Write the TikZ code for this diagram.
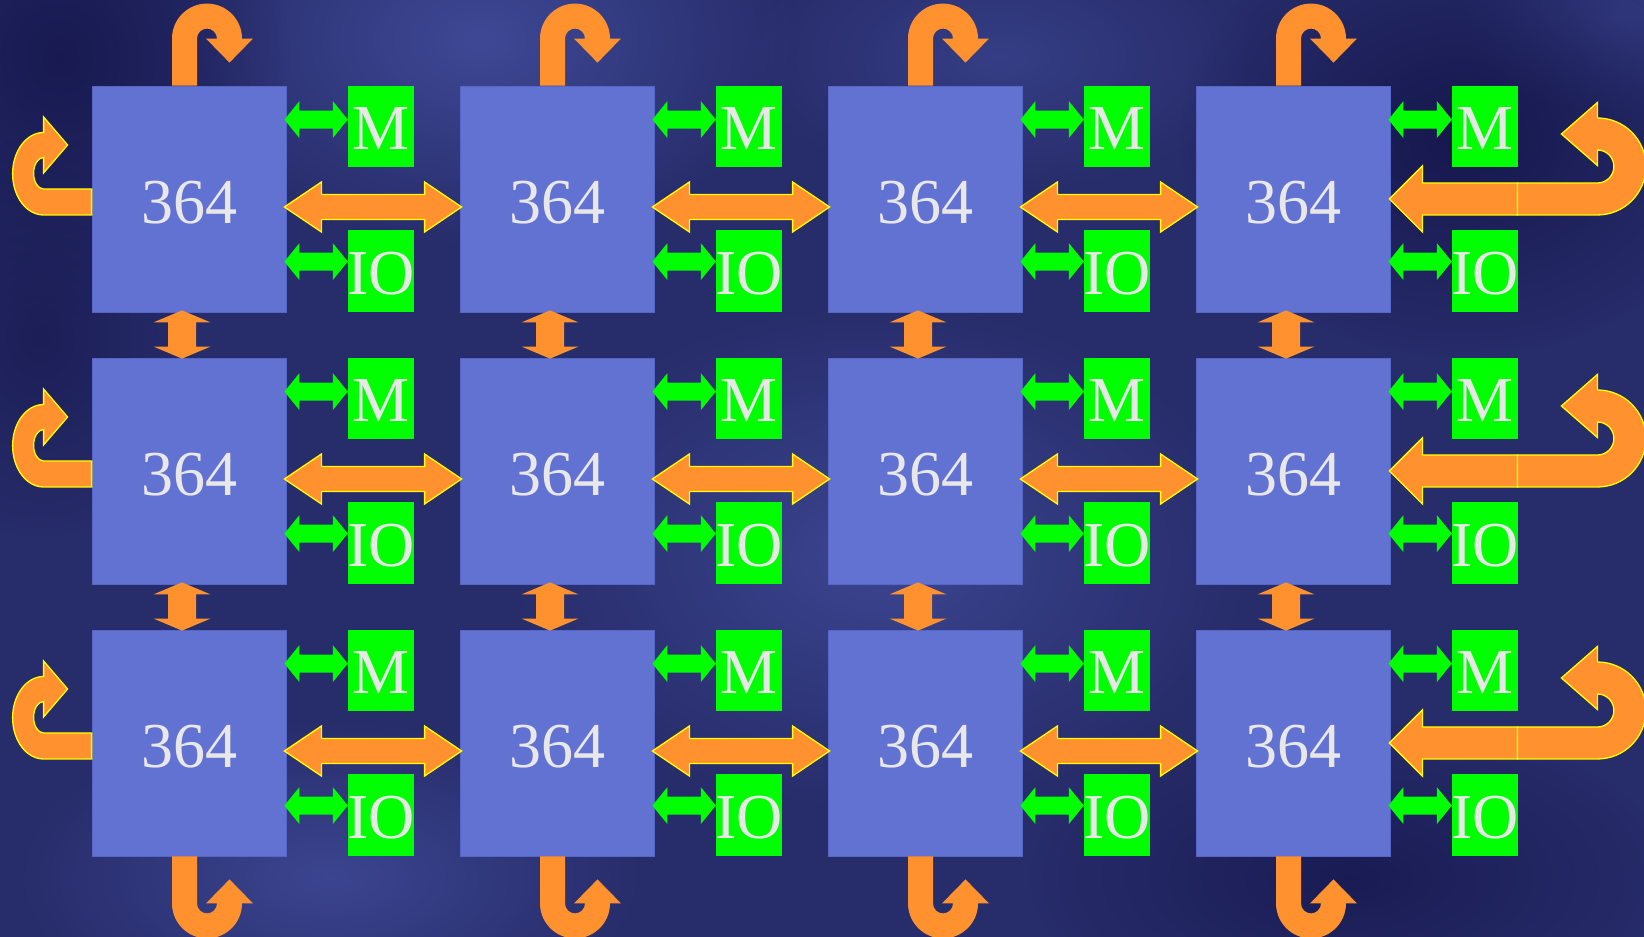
\documentclass[tikz,border=0pt]{standalone}
\usepackage{fontspec}
\setmainfont{Liberation Serif}
\usetikzlibrary{calc,fadings}

\definecolor{bgbase}{HTML}{272C6A}
\definecolor{bglight}{HTML}{4450A0}
\definecolor{bgdark}{HTML}{14154A}
\definecolor{cpublue}{HTML}{6172D2}
\definecolor{cpuedge}{HTML}{5666C6}
\definecolor{vividgreen}{HTML}{00FF00}
\definecolor{linkorange}{HTML}{FF922E}
\definecolor{edgeyellow}{HTML}{FFFF00}
\definecolor{txtgray}{HTML}{E8E8E8}

\tikzfading[name=softspot, inner color=transparent!0, outer color=transparent!100]

% horizontal double arrow between two points: style, from, to, shaft half, head half, head length
\newcommand\hconn[6]{%
  \path[#1] let \p1=(#2), \p2=(#3) in
    (\x1,\y1) -- (\x1+#6,\y1+#5) -- (\x1+#6,\y1+#4) -- (\x2-#6,\y1+#4) -- (\x2-#6,\y1+#5) -- (\x2,\y1)
    -- (\x2-#6,\y1-#5) -- (\x2-#6,\y1-#4) -- (\x1+#6,\y1-#4) -- (\x1+#6,\y1-#5) -- cycle;}
% vertical double arrow from an upper point to a lower one
\newcommand\vconn[6]{%
  \path[#1] let \p1=(#2), \p2=(#3) in
    (\x1,\y1) -- (\x1+#5,\y1-#6) -- (\x1+#4,\y1-#6) -- (\x1+#4,\y2+#6) -- (\x1+#5,\y2+#6) -- (\x1,\y2)
    -- (\x1-#5,\y2+#6) -- (\x1-#4,\y2+#6) -- (\x1-#4,\y1-#6) -- (\x1-#5,\y1-#6) -- cycle;}

\tikzset{
  cpu/.style={fill=cpublue, draw=cpuedge, line width=0.8pt, minimum width=194pt, minimum height=226pt,
    inner sep=0pt, text=txtgray, font=\fontsize{64}{64}\selectfont, text height=49pt, text depth=0pt},
  memio/.style={fill=vividgreen, minimum width=66pt, inner sep=0pt, text=txtgray,
    font=\fontsize{64}{64}\selectfont, text height=47pt, text depth=0pt},
  linkfill/.style={fill=linkorange, draw=edgeyellow, line width=1.3pt, line join=miter},
  turnfill/.style={fill=linkorange},
  portfill/.style={fill=vividgreen},
}

\begin{document}
\begin{tikzpicture}[x=1pt,y=1pt]
\useasboundingbox (0,0) rectangle (1644,937);

% mottled backdrop
\fill[bgbase] (0,0) rectangle (1644,937);
\fill[bglight, path fading=softspot, opacity=0.8] (480,897) ellipse (320 and 210);
\fill[bglight, path fading=softspot, opacity=0.5] (1000,880) ellipse (260 and 140);
\fill[bglight, path fading=softspot, opacity=0.7] (880,380) ellipse (380 and 260);
\fill[bglight, path fading=softspot, opacity=0.7] (330,60) ellipse (320 and 160);
\fill[bglight, path fading=softspot, opacity=0.5] (1620,920) ellipse (160 and 100);
\fill[bgdark, path fading=softspot, opacity=0.8] (60,880) ellipse (230 and 260);
\fill[bgdark, path fading=softspot, opacity=0.9] (1460,800) ellipse (280 and 220);
\fill[bgdark, path fading=softspot, opacity=0.7] (1350,60) ellipse (320 and 160);
\fill[bgdark, path fading=softspot, opacity=0.6] (40,600) ellipse (160 and 200);

% processors with their memory and IO blocks
\foreach \r in {0,1,2}{
  \foreach \c in {0,...,3}{
    \node[cpu] (b-\r-\c) at ({189+368*\c},{738-272*\r}) {364};
    \node[memio, minimum height=81pt] (m-\r-\c) at ({381+368*\c},{810.5-272*\r}) {M};
    \node[memio, minimum height=82pt, inner xsep=-1pt] (io-\r-\c) at ({381+368*\c},{666-272*\r}) {IO};
  }
}

% memory and IO ports
\foreach \r in {0,1,2}{
  \foreach \c in {0,...,3}{
    \hconn{portfill}{$(b-\r-\c.north east)+(-2,-34)$}{$(m-\r-\c.north west)+(0,-34)$}{9pt}{18.5pt}{15pt}
    \hconn{portfill}{$(b-\r-\c.north east)+(-2,-176)$}{$(io-\r-\c.north west)+(0,-32)$}{9pt}{18.5pt}{15pt}
  }
}

% links along each row
\foreach \r in {0,1,2}{
  \foreach \c [evaluate=\c as \cn using int(\c+1)] in {0,1,2}{
    \hconn{linkfill}{$(b-\r-\c.east)+(-2,-8)$}{$(b-\r-\cn.west)+(2,-8)$}{12.5pt}{25pt}{37pt}
  }
}

% links along each column
\foreach \r [evaluate=\r as \rn using int(\r+1)] in {0,1}{
  \foreach \c in {0,...,3}{
    \vconn{turnfill}{$(b-\r-\c.south)+(-7,2)$}{$(b-\rn-\c.north)+(-7,-1)$}{14pt}{28.5pt}{12pt}
  }
}

% wrap-around links at the top and bottom edges
\foreach \c in {0,...,3}{
  \begin{scope}[shift={(b-0-\c.north)}]
    \path[turnfill] (-17,0) -- (-17,47) arc[start angle=180,end angle=0,radius=35]
      -- (64,47) -- (40.5,23) -- (17,47) -- (28,47) arc[start angle=0,end angle=180,radius=10]
      -- (8,0) -- cycle;
  \end{scope}
  \begin{scope}[shift={(b-2-\c.south)}, yscale=-1]
    \path[turnfill] (-17,0) -- (-17,47) arc[start angle=180,end angle=0,radius=35]
      -- (64,47) -- (40.5,23) -- (17,47) -- (28,47) arc[start angle=0,end angle=180,radius=10]
      -- (8,0) -- cycle;
  \end{scope}
}

% wrap-around links at the left and right edges
\foreach \r in {0,1,2}{
  \begin{scope}[shift={(b-\r-0.west)}]
    \path[linkfill] (0,-16) -- (-48,-16) arc[start angle=270,end angle=90,x radius=31,y radius=41.25]
      -- (-48,82) -- (-24,54) -- (-48,26) -- (-48,41.5)
      arc[start angle=90,end angle=270,x radius=10,y radius=15.75] -- (0,10) -- cycle;
  \end{scope}
  \begin{scope}[shift={(b-\r-3.east)}]
    \path[linkfill] (-1,0) -- (32,33) -- (32,16) -- (127,16) -- (127,-16) -- (32,-16) -- (32,-33) -- cycle;
    \path[linkfill] (127,-16) -- (207,-16) arc[start angle=-90,end angle=90,radius=48.5]
      -- (207,96.5) -- (171,65) -- (207,33.5) -- (207,49)
      arc[start angle=90,end angle=-90,radius=16.5] -- (127,16) -- cycle;
  \end{scope}
}
\end{tikzpicture}
\end{document}
